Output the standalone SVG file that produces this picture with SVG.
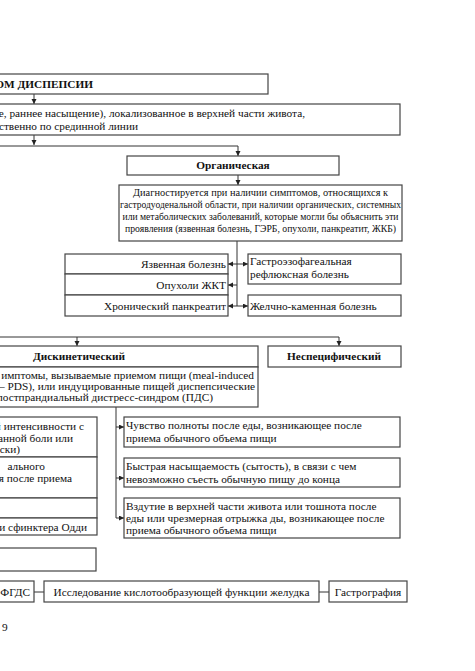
<svg xmlns="http://www.w3.org/2000/svg" width="475" height="671" viewBox="0 0 475 671">
<defs>
<marker id="ah" markerWidth="6" markerHeight="6" refX="5" refY="2.5" orient="auto" markerUnits="userSpaceOnUse">
<path d="M0,0 L5,2.5 L0,5 z" fill="#222"/>
</marker>
<style>
.b{fill:#fff;stroke:#444;stroke-width:1.2}
.t{font-family:"Liberation Serif","Times New Roman",serif;font-size:11.3px;fill:#111}
.s{font-family:"Liberation Serif","Times New Roman",serif;font-size:11px;fill:#111}
.h{font-family:"Liberation Serif","Times New Roman",serif;font-size:11.3px;font-weight:bold;fill:#111}
.c{text-anchor:middle}
.e{text-anchor:end}
.l{fill:none;stroke:#333;stroke-width:1}
.a{fill:none;stroke:#333;stroke-width:1;marker-end:url(#ah)}
</style>
</defs>
<rect width="475" height="671" fill="#fff"/>

<g id="connectors">
<line class="a" x1="34" y1="94" x2="34" y2="104"/>
<line class="a" x1="34" y1="135" x2="34" y2="145"/>
<polyline class="l" points="-2,146 238,146"/>
<line class="a" x1="238" y1="146" x2="238" y2="156"/>
<line class="a" x1="238" y1="175" x2="238" y2="185"/>
<line class="l" x1="237" y1="241" x2="237" y2="306"/>
<line class="a" x1="237" y1="264" x2="228" y2="264"/>
<line class="a" x1="237" y1="264" x2="248" y2="264"/>
<line class="a" x1="237" y1="285" x2="228" y2="285"/>
<line class="a" x1="237" y1="306" x2="228" y2="306"/>
<line class="a" x1="237" y1="306" x2="248" y2="306"/>
<polyline class="l" points="-2,337 339,337"/>
<line class="a" x1="77" y1="337" x2="77" y2="346"/>
<line class="a" x1="339" y1="337" x2="339" y2="346"/>
<line class="l" x1="116" y1="407" x2="116" y2="518"/>
<line class="a" x1="116" y1="427" x2="124" y2="427"/>
<line class="a" x1="116" y1="478" x2="124" y2="478"/>
<line class="a" x1="116" y1="518" x2="124" y2="518"/>
<line class="l" x1="34" y1="592" x2="44" y2="592"/>
<line class="l" x1="319" y1="592" x2="329" y2="592"/>
</g>

<g id="title">
<rect class="b" x="-10" y="74" width="278" height="20"/>
<text class="h e" x="93" y="88">ОМ ДИСПЕПСИИ</text>
</g>

<g id="definition">
<rect class="b" x="-10" y="104" width="410" height="31"/>
<text class="t e" x="305" y="117">е, раннее насыщение), локализованное в верхней части живота,</text>
<text class="t e" x="138" y="130">ственно по срединной линии</text>
</g>

<g id="organic">
<rect class="b" x="127" y="156" width="212" height="19"/>
<text class="h c" x="233" y="169">Органическая</text>
</g>

<g id="organic-desc">
<rect class="b" x="119" y="185" width="283" height="56"/>
<text class="s c" x="260.5" y="196" textLength="255" lengthAdjust="spacingAndGlyphs">Диагностируется при наличии симптомов, относящихся к</text>
<text class="s c" x="260.5" y="208" textLength="281" lengthAdjust="spacingAndGlyphs">гастродуоденальной области, при наличии органических, системных</text>
<text class="s c" x="260.5" y="220" textLength="276" lengthAdjust="spacingAndGlyphs">или метаболических заболеваний, которые могли бы объяснить эти</text>
<text class="s c" x="260.5" y="232" textLength="271" lengthAdjust="spacingAndGlyphs">проявления (язвенная болезнь, ГЭРБ, опухоли, панкреатит, ЖКБ)</text>
</g>

<g id="ulcer">
<rect class="b" x="65" y="254" width="163" height="20"/>
<text class="t e" x="226" y="268">Язвенная болезнь</text>
</g>
<g id="tumors">
<rect class="b" x="65" y="274" width="163" height="21"/>
<text class="t e" x="226" y="289">Опухоли ЖКТ</text>
</g>
<g id="pancreatitis">
<rect class="b" x="65" y="295" width="163" height="21"/>
<text class="t e" x="226" y="310">Хронический панкреатит</text>
</g>
<g id="gerd">
<rect class="b" x="248" y="254" width="153" height="30"/>
<text class="t" x="250" y="265">Гастроэзофагеальная</text>
<text class="t" x="250" y="278">рефлюксная болезнь</text>
</g>
<g id="gallstone">
<rect class="b" x="248" y="295" width="153" height="21"/>
<text class="t" x="250" y="310">Желчно-каменная болезнь</text>
</g>

<g id="dyskinetic">
<rect class="b" x="-100" y="346" width="358" height="21"/>
<text class="h c" x="79" y="360">Дискинетический</text>
</g>
<g id="dyskinetic-desc">
<rect class="b" x="-100" y="367" width="358" height="40"/>
<text class="t e" x="254" y="379">имптомы, вызываемые приемом пищи (meal-induced</text>
<text class="t e" x="255" y="390">– PDS), или индуцированные пищей диспепсические</text>
<text class="t e" x="213" y="401">постпрандиальный дистресс-синдром (ПДС)</text>
</g>

<g id="nonspecific">
<rect class="b" x="268" y="346" width="133" height="21"/>
<text class="h c" x="334" y="360">Неспецифический</text>
</g>

<g id="left-a">
<rect class="b" x="-10" y="417" width="107" height="40"/>
<text class="t e" x="84" y="430">й интенсивности с</text>
<text class="t e" x="73" y="442">анной боли или</text>
<text class="t e" x="20" y="453">ски)</text>
</g>
<g id="left-b">
<rect class="b" x="-10" y="457" width="107" height="41"/>
<text class="t e" x="45" y="470">ального</text>
<text class="t e" x="72" y="482">я после приема</text>
</g>
<g id="left-c">
<rect class="b" x="-10" y="498" width="107" height="20"/>
</g>
<g id="left-d">
<rect class="b" x="-10" y="518" width="107" height="17"/>
<text class="t e" x="87" y="531">и сфинктера Одди</text>
</g>
<g id="left-e">
<rect class="b" x="-10" y="548" width="106" height="23"/>
</g>

<g id="fullness">
<rect class="b" x="124" y="417" width="276" height="30"/>
<text class="t" x="126" y="429">Чувство полноты после еды, возникающее после</text>
<text class="t" x="126" y="442">приема обычного объема пищи</text>
</g>
<g id="satiety">
<rect class="b" x="124" y="458" width="276" height="29"/>
<text class="t" x="126" y="470">Быстрая насыщаемость (сытость), в связи с чем</text>
<text class="t" x="126" y="483">невозможно съесть обычную пищу до конца</text>
</g>
<g id="bloating">
<rect class="b" x="124" y="498" width="276" height="40"/>
<text class="t" x="126" y="510">Вздутие в верхней части живота или тошнота после</text>
<text class="t" x="126" y="522">еды или чрезмерная отрыжка ды, возникающее после</text>
<text class="t" x="126" y="534">приема обычного объема пищи</text>
</g>

<g id="fgds">
<rect class="b" x="-10" y="581" width="44" height="21"/>
<text class="t e" x="30" y="596">ФГДС</text>
</g>
<g id="acid">
<rect class="b" x="44" y="581" width="275" height="21"/>
<text class="t c" x="181.5" y="596">Исследование кислотообразующей функции желудка</text>
</g>
<g id="gastrography">
<rect class="b" x="329" y="581" width="78" height="21"/>
<text class="t c" x="368" y="596">Гастрография</text>
</g>

<text class="t" x="2" y="631">9</text>
</svg>
